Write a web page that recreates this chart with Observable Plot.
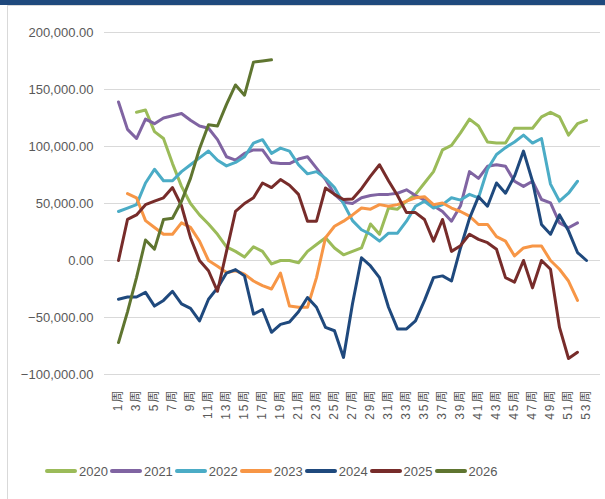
<!DOCTYPE html>
<html><head><meta charset="utf-8">
<script src="https://cdn.jsdelivr.net/npm/d3@7"></script>
<script src="https://cdn.jsdelivr.net/npm/@observablehq/plot@0.6"></script>
<style>
body{margin:0;background:#fff;font-family:"Liberation Sans",Arial,"Noto Sans CJK SC",sans-serif;}
#wrap{position:relative;width:605px;height:499px;overflow:hidden;background:#fff;}
#band{position:absolute;left:0;top:0;width:605px;height:5px;background:#1f497d;}
#frame{position:absolute;left:7px;top:5px;width:640px;height:540px;border:1px solid #d9d9d9;}
#chart{position:absolute;left:0;top:0;}
#legend{position:absolute;left:45px;top:462px;height:18px;display:flex;align-items:center;font-size:13px;color:#595959;white-space:nowrap;}
.item{display:flex;align-items:center;margin-right:2px;}
.sw{width:32px;height:4px;border-radius:2px;margin-right:2px;}
.xax text{letter-spacing:2px;}
</style></head>
<body>
<div id="wrap">
<div id="frame"></div>
<div id="chart"></div>
<div id="band"></div>
<div id="legend"></div>
</div>
<script>
const weeks = [1,2,3,4,5,6,7,8,9,10,11,12,13,14,15,16,17,18,19,20,21,22,23,24,25,26,27,28,29,30,31,32,33,34,35,36,37,38,39,40,41,42,43,44,45,46,47,48,49,50,51,52,53];
const tickWeeks = [1,3,5,7,9,11,13,15,17,19,21,23,25,27,29,31,33,35,37,39,41,43,45,47,49,51,53];
const years = ["2020","2021","2022","2023","2024","2025","2026"];
const colors = ["#9bbb59","#8064a2","#4bacc6","#f79646","#1f497d","#772c2a","#5f7530"];
const yTicks = [-100000,-50000,0,50000,100000,150000,200000];

const v2020 = [null,null,130000,132000,113000,107000,85000,65000,50000,40000,32000,23000,12000,8000,3000,12000,8000,-3000,0,0,-2000,8000,14000,20000,11000,5000,8000,11000,32000,23000,46000,45000,52000,58000,68000,78000,97000,101000,112000,124000,118000,104000,103000,103000,116000,116000,116000,126000,130000,126000,110000,120000,123000];
const v2021 = [139000,115000,107000,124000,120000,125000,127000,129000,123000,118000,116000,106000,91000,88000,94000,97000,97000,86000,85000,85000,89000,91000,81000,71000,58000,51000,50000,55000,57000,58000,58000,59000,62000,57000,53000,48000,43000,34500,48000,78000,72000,82600,84000,82600,69500,65000,69500,53500,50500,33000,28700,33000,null];
const v2022 = [43000,46000,49000,68000,80000,70000,70000,78000,84000,90000,96000,88000,83000,86000,91000,103000,106000,94000,98600,96000,84000,76000,78000,72000,64000,50000,35000,27000,23000,17000,24000,24000,34500,47600,52000,46000,49000,55000,53000,58000,55000,80000,93000,99000,104000,110000,103000,107000,67000,52000,59000,69500,null];
const v2023 = [null,58700,55000,35000,29000,23000,23000,33000,29000,17000,0,-5000,-10600,-9000,-12000,-18000,-22000,-25000,-11000,-40000,-41000,-41000,-15000,20000,30000,34500,40000,46000,45000,49000,47600,49000,52000,55000,56000,49000,50500,46000,43000,39000,31600,31600,21000,17000,4000,11000,12700,12700,0,-7700,-18000,-35000,null];
const v2024 = [-34000,-32000,-32000,-28000,-40000,-35000,-27000,-38000,-42000,-53000,-34000,-24000,-11000,-8000,-13500,-47000,-43000,-63000,-56000,-54000,-45000,-32500,-41000,-58700,-61600,-85000,-38000,2400,-4800,-15000,-41000,-60000,-60000,-53000,-35000,-15000,-13500,-18000,11000,37000,56000,47600,68000,59000,74000,96000,69500,31600,23000,40000,26000,7000,0];
const v2025 = [0,36000,40000,49000,52000,55000,64000,48000,20000,0,-9000,-27000,8000,43000,50000,55000,68000,64000,71000,66000,58000,34500,34500,63600,58000,53500,54000,63000,74000,84000,70000,57000,42000,42000,36000,17000,36000,8000,13000,23000,18500,15600,9800,-15000,-19000,0,-24000,0,-7700,-58700,-86000,-80500,null];
const v2026 = [-72000,-45000,-15000,18000,10000,36000,37000,52000,72000,98000,119000,118000,137000,154000,145000,174000,175000,176000,null,null,null,null,null,null,null,null,null,null,null,null,null,null,null,null,null,null,null,null,null,null,null,null,null,null,null,null,null,null,null,null,null,null,null];
const series = [v2020,v2021,v2022,v2023,v2024,v2025,v2026];

const data = [];
years.forEach((yr, i) => series[i].forEach((v, j) => { if (v != null) data.push({year: yr, week: weeks[j], value: v}); }));

const chart = Plot.plot({
  width: 605, height: 440,
  marginTop: 32, marginBottom: 66, marginLeft: 104, marginRight: 5,
  style: {color: "#595959", background: "transparent", fontFamily: "'Liberation Sans', Arial, 'Noto Sans CJK SC', sans-serif"},
  x: {type: "point", domain: weeks, padding: 0.5, label: null},
  y: {domain: [-100000, 200000], label: null},
  color: {domain: years, range: colors},
  marks: [
    Plot.gridY(yTicks, {stroke: "#d9d9d9", strokeOpacity: 1, strokeWidth: 1}),
    Plot.axisY(yTicks, {tickFormat: d3.format(",.2f"), tickSize: 0, tickPadding: 11, fontSize: 13, label: null}),
    Plot.axisX(tickWeeks, {tickFormat: d => d + "周", tickRotate: -90, tickSize: 0, tickPadding: 14, fontSize: 12, label: null, className: "xax"}),
    Plot.line(data, {x: "week", y: "value", z: "year", stroke: "year", strokeWidth: 3, strokeLinejoin: "round", strokeLinecap: "round"})
  ]
});
document.getElementById("chart").appendChild(chart);

const lg = document.getElementById("legend");
years.forEach((yr, i) => {
  const it = document.createElement("div"); it.className = "item";
  const sw = document.createElement("div"); sw.className = "sw"; sw.style.background = colors[i];
  const tx = document.createElement("span"); tx.textContent = yr;
  it.appendChild(sw); it.appendChild(tx); lg.appendChild(it);
});
</script>
</body></html>
